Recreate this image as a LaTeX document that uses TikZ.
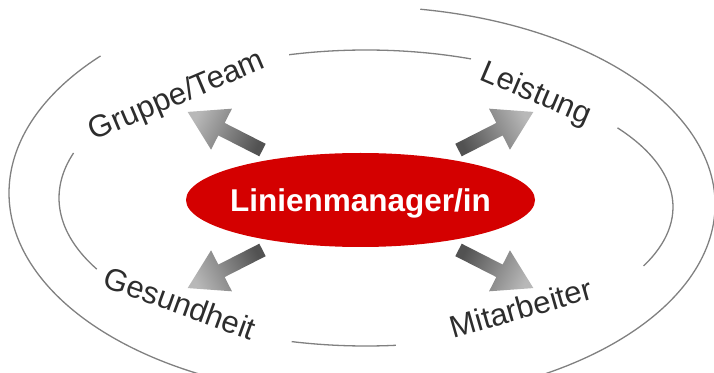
\documentclass[tikz,border=0pt]{standalone}
\usepackage{fontspec}
\setmainfont{Liberation Sans}
\usetikzlibrary{shapes,calc}
\usetikzlibrary{backgrounds}

\definecolor{manager red}{RGB}{212,0,0}
\definecolor{ring gray}{RGB}{128,128,128}
\definecolor{topic gray}{RGB}{45,45,45}

\begin{document}
\begin{tikzpicture}[x=1pt,y=1pt,
  ring/.style={draw=ring gray,line width=1.3pt},
  topic/.style={text=topic gray,inner sep=0,font=\fontsize{31}{37}\selectfont,text height=22pt,text depth=0pt},
  manager/.style={ellipse,fill=manager red,minimum width=349pt,minimum height=94pt,inner sep=0,
    text=white,font=\bfseries\fontsize{31.5}{38}\selectfont,text height=22.6pt,text depth=0pt},
  bigarrow/.style={top color=black!28,bottom color=black!68},
]
  \useasboundingbox (0,0) rectangle (714,372);
  \clip (0,0) rectangle (714,372);

  \node[manager] (mgr) at (360.5,172) {\makebox[0pt]{Linienmanager/in}};

  \node[topic,rotate=23]  (team)   at (176,278) {Gruppe/Team};
  \node[topic,rotate=-23] (perf)   at (537,280) {Leistung};
  \node[topic,rotate=-20] (health) at (180,69)  {Gesundheit};
  \node[topic,rotate=16]  (staff)  at (521,64)  {Mitarbeiter};

  \begin{scope}[on background layer]
    % inner ring, broken at the labels
    \foreach \a/\b in {70/104.5,162.3/208.7,256/275.6}
      \draw[ring] (366,174) ++(\a:307 and 148) arc[start angle=\a,end angle=\b,x radius=307,y radius=148];
    \draw[ring] (366,165) ++(-25.3:307 and 138) arc[start angle=-25.3,end angle=35,x radius=307,y radius=138];
    % outer ring
    \draw[ring] (362,179) ++(137.8:353 and 204) arc[start angle=137.8,end angle=250,x radius=353,y radius=204];
    \draw[ring] (362,167.5) ++(-70:353 and 198) arc[start angle=-70,end angle=80.5,x radius=353,y radius=198];

    \foreach \ang/\shang in {153/63,27/-63,207/117,-27/-117}
      \shade[bigarrow,shading angle=\shang]
        ($(mgr.center)+(\ang:110)+(\ang-90:7)$) --
        ($(mgr.center)+(\ang:156)+(\ang-90:7)$) --
        ($(mgr.center)+(\ang:156)+(\ang-90:23)$) --
        ($(mgr.center)+(\ang:194)$) --
        ($(mgr.center)+(\ang:156)+(\ang+90:23)$) --
        ($(mgr.center)+(\ang:156)+(\ang+90:7)$) --
        ($(mgr.center)+(\ang:110)+(\ang+90:7)$) -- cycle;
  \end{scope}
\end{tikzpicture}
\end{document}
